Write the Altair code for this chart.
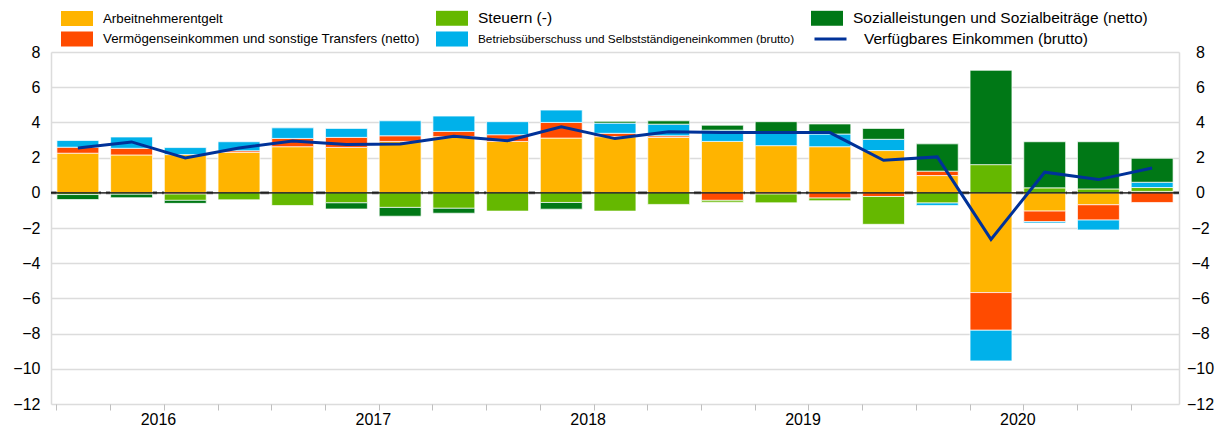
import altair as alt
import pandas as pd

quarters = ["2016Q1", "2016Q2", "2016Q3", "2016Q4",
            "2017Q1", "2017Q2", "2017Q3", "2017Q4",
            "2018Q1", "2018Q2", "2018Q3", "2018Q4",
            "2019Q1", "2019Q2", "2019Q3", "2019Q4",
            "2020Q1", "2020Q2", "2020Q3", "2020Q4",
            "2021Q1"]

arbeit    = [2.25, 2.15, 2.17, 2.30, 2.62, 2.58, 2.92, 3.19, 2.92, 3.11, 3.19, 3.15, 2.92, 2.68, 2.62, 2.40, 0.98, -5.67, -1.04, -0.68, 0.08]
vermoegen = [0.34, 0.38, -0.07, 0.09, 0.47, 0.57, 0.32, 0.30, 0.38, 0.89, 0.19, 0.09, -0.43, -0.07, -0.30, -0.21, 0.25, -2.14, -0.60, -0.87, -0.55]
steuern   = [-0.10, -0.08, -0.36, -0.40, -0.72, -0.57, -0.83, -0.88, -1.04, -0.55, -1.04, -0.66, -0.10, -0.50, -0.15, -1.58, -0.58, 1.60, 0.28, 0.22, 0.22]
betrieb   = [0.38, 0.64, 0.40, 0.51, 0.60, 0.51, 0.85, 0.87, 0.74, 0.70, 0.58, 0.66, 0.64, 0.70, 0.72, 0.64, -0.14, -1.74, -0.08, -0.56, 0.30]
sozial    = [-0.28, -0.20, -0.17, 0.0, 0.0, -0.35, -0.50, -0.28, 0.0, -0.38, 0.10, 0.19, 0.28, 0.66, 0.57, 0.62, 1.55, 5.36, 2.62, 2.68, 1.36]
einkommen = [2.55, 2.89, 1.98, 2.55, 2.94, 2.74, 2.77, 3.21, 2.96, 3.75, 3.08, 3.47, 3.43, 3.42, 3.42, 1.85, 2.04, -2.65, 1.17, 0.75, 1.41]

names = ["Arbeitnehmerentgelt",
         "Vermögenseinkommen und sonstige Transfers (netto)",
         "Steuern (-)",
         "Betriebsüberschuss und Selbstständigeneinkommen (brutto)",
         "Sozialleistungen und Sozialbeiträge (netto)"]
colors = ["#ffb400", "#ff4b00", "#65b800", "#00b1ea", "#007816"]
line_name = "Verfügbares Einkommen (brutto)"
line_color = "#003299"

series_values = [arbeit, vermoegen, steuern, betrieb, sozial]
rows = []
for i, q in enumerate(quarters):
    for k, (n, arr) in enumerate(zip(names, series_values)):
        if arr[i] != 0:
            rows.append({"q": q, "series": n, "k": k, "val": arr[i]})
bars_df = pd.DataFrame(rows)
line_df = pd.DataFrame({"q": quarters, "val": einkommen, "s": line_name})
zero_df = pd.DataFrame({"v": [0]})

FONT = "Liberation Sans"
W, H = 1128, 352
step = W / len(quarters)
xscale = alt.Scale(domain=quarters, paddingInner=0.22, paddingOuter=0.11)
yscale = alt.Scale(domain=[-12, 8], nice=False, zero=False)
yvals = list(range(-12, 9, 2))

x_axis = alt.Axis(title=None, bandPosition=0, tickSize=6, tickColor="#bfbfbf", tickWidth=1,
                  domain=False, grid=False,
                  labelExpr="substring(datum.value,4)=='Q3' ? substring(datum.value,0,4) : ''",
                  labelOffset=-step / 2,
                  labelFontSize=16, labelFont=FONT, labelColor="#000", labelPadding=1,
                  labelOverlap=False, labelAngle=0)
yl_axis = alt.Axis(orient="left", title=None, values=yvals, grid=True, gridColor="#dcdcdc",
                   gridWidth=1.5, domain=True, domainColor="#dcdcdc", domainWidth=1.5,
                   ticks=False, tickSize=0, labelPadding=11, labelFontSize=16, labelFont=FONT,
                   labelColor="#000", labelFlush=False)
yr_axis = alt.Axis(orient="right", title=None, values=yvals, grid=False,
                   domain=True, domainColor="#dcdcdc", domainWidth=1.5,
                   ticks=False, tickSize=0, labelPadding=21, labelAlign="center",
                   labelFontSize=16, labelFont=FONT, labelColor="#000", labelFlush=False)

fs_expr = ("isObject(datum) ? ((datum.label == 'Steuern (-)' || indexof(datum.label, 'Sozialleistungen') == 0) ? 15.5 : "
           "(indexof(datum.label, 'Betriebs') == 0 ? 11.8 : 13.3)) : 13")
bar_legend = alt.Legend(title=None, orient="none", legendX=10, legendY=-42, columns=3,
                        columnPadding=16, rowPadding=4, clipHeight=16,
                        symbolType="M-1,-0.47H1V0.47H-1Z", symbolSize=1024, symbolStrokeWidth=0,
                        labelOffset=10, labelFont=FONT, labelColor="#000",
                        labelFontSize=alt.ExprRef(fs_expr), labelLimit=600, padding=0,
                        gridAlign="each", symbolOpacity=1)
line_legend = alt.Legend(title=None, orient="none", legendX=762, legendY=-21, clipHeight=16,
                         symbolType="stroke", symbolSize=1024, symbolStrokeWidth=3,
                         labelOffset=16, labelFont=FONT, labelColor="#000", labelFontSize=15.5,
                         labelLimit=600, padding=0)

zero_dash = alt.Chart(zero_df).mark_rule(color="#808080", strokeWidth=3, strokeDash=[9, 5]).encode(
    y=alt.Y("v:Q", scale=yscale, axis=None))

bars = alt.Chart(bars_df).mark_bar(stroke="white", strokeWidth=1, strokeOpacity=0.7).encode(
    x=alt.X("q:N", scale=xscale, axis=x_axis, sort=None),
    y=alt.Y("val:Q", scale=yscale, axis=yl_axis, stack="zero"),
    fill=alt.Fill("series:N", scale=alt.Scale(domain=names, range=colors),
                  legend=bar_legend),
    order=alt.Order("k:Q", sort="ascending"),
)

zero_line = alt.Chart(zero_df).mark_rule(color="#000", strokeWidth=1.3).encode(
    y=alt.Y("v:Q", scale=yscale, axis=None))

line = alt.Chart(line_df).mark_line(strokeWidth=3).encode(
    x=alt.X("q:N", scale=xscale, axis=x_axis, sort=None),
    y=alt.Y("val:Q", scale=yscale, axis=yr_axis),
    stroke=alt.Stroke("s:N", scale=alt.Scale(domain=[line_name], range=[line_color]),
                      legend=line_legend),
)

chart = alt.layer(zero_dash, bars, zero_line, line).resolve_axis(y="independent").properties(
    width=W, height=H,
    autosize=alt.AutoSizeParams(type="none"),
    padding={"left": 43, "top": 44, "right": 39, "bottom": 28},
).configure_view(stroke=None)

chart.save("out.html", embed_options={"renderer": "svg", "actions": False})
